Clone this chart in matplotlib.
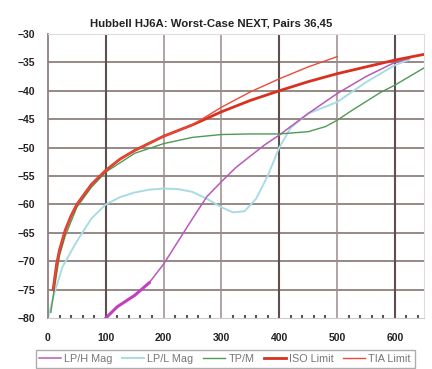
import matplotlib
matplotlib.use("Agg")
import matplotlib.pyplot as plt
from matplotlib.ticker import MultipleLocator

plt.rcParams["font.family"] = ["Liberation Sans", "DejaVu Sans"]

# ISO / TIA limit lines (MHz, dB)
lim_f = [9, 15, 20, 30, 40, 50, 75, 100, 125, 150, 200, 250]
lim_db = [-75, -70.5, -68, -64.5, -62, -60, -56.5, -54, -52, -50.5, -48, -46]
iso_f = [300, 350, 400, 450, 500, 550, 600, 650]
iso_db = [-43.7, -41.7, -40, -38.4, -37, -35.8, -34.6, -33.6]
tia_f = [300, 350, 400, 450, 500]
tia_db = [-42.9, -40.2, -37.9, -35.8, -34]

# measured curves
tpm_f = [5, 10, 20, 30, 50, 75, 100, 150, 200, 250, 300, 350, 400, 450, 480, 500, 525, 550, 575, 600, 625, 650]
tpm_db = [-79, -75.5, -69, -65.5, -60.5, -57, -54.3, -51, -49.3, -48.2, -47.7, -47.6, -47.6, -47.2, -46.3,
          -45.2, -43.5, -41.9, -40.3, -39, -37.5, -36]
lpl_f = [0, 5, 10, 25, 50, 75, 100, 125, 150, 175, 200, 225, 250, 275, 300, 320, 340, 360, 380, 400,
         420, 450, 500, 550, 600, 625]
lpl_db = [-80, -78, -76, -71, -66.5, -62.5, -60, -58.7, -57.9, -57.4, -57.2, -57.3, -57.8, -59, -60.5,
          -61.4, -61.2, -59, -55, -50, -46.5, -44, -42, -38.5, -35.5, -34.5]
lph_f = [100, 120, 150, 175, 200, 225, 250, 275, 300, 325, 350, 375, 400, 450, 500, 550, 600, 625]
lph_db = [-80, -78, -76, -73.8, -70.5, -66.5, -62.5, -58.6, -56, -53.5, -51.5, -49.5, -47.8, -44, -40.5,
          -37.5, -35, -34.3]

fig = plt.figure(figsize=(4.32, 3.69), dpi=100)
ax = fig.add_axes([0.111, 0.138, 0.870, 0.770])

# grid
for y in range(-75, -29, 5):
    ax.axhline(y, color="#8f7f7c", lw=1.3, zorder=1)
for x in [100, 200, 300, 400, 500, 600]:
    dark = x in (100, 400, 600)
    ax.axvline(x, color="#5e4e4c" if dark else "#9a8c8a", lw=1.5 if dark else 1.1, zorder=1)

ax.plot(lph_f, lph_db, color="#b85ab8", lw=1.1, zorder=3, label="LP/H Mag")
ax.plot(lph_f[:4], lph_db[:4], color="#c040c0", lw=2.2, zorder=3)
ax.plot(lpl_f, lpl_db, color="#a8dce4", lw=1.4, zorder=2, label="LP/L Mag")
ax.plot(tpm_f, tpm_db, color="#4f9a55", lw=1.0, zorder=3, label="TP/M")
ax.plot(lim_f + iso_f, lim_db + iso_db, color="#d8321f", lw=2.0, zorder=4, label="ISO Limit")
ax.plot(lim_f + tia_f, lim_db + tia_db, color="#ea4a3c", lw=1.0, zorder=4, label="TIA Limit")

ax.set_xlim(0, 650)
ax.set_ylim(-80, -30)
ax.xaxis.set_major_locator(MultipleLocator(100))
ax.xaxis.set_minor_locator(MultipleLocator(20))
ax.yaxis.set_major_locator(MultipleLocator(5))
ax.tick_params(axis="both", which="major", length=0, labelsize=7.5, colors="#222222")
ax.tick_params(axis="x", which="major", pad=11)
ax.tick_params(axis="y", which="major", pad=9)
ax.tick_params(axis="x", which="minor", length=2, width=1.5, color="#555555", direction="in")
for lab in ax.get_xticklabels() + ax.get_yticklabels():
    lab.set_fontweight("bold")
for s in ["top", "right"]:
    ax.spines[s].set_color("#dddddd")
ax.spines["left"].set_color("#8f7f7c")
ax.spines["left"].set_linewidth(1.3)
ax.spines["bottom"].set_color("#cccccc")

fig.text(0.49, 0.935, "Hubbell HJ6A: Worst-Case NEXT, Pairs 36,45", ha="center", va="center",
         fontsize=8.2, fontweight="bold", color="#222222")

leg = fig.legend(loc="lower left", bbox_to_anchor=(0.07, -0.012), ncol=5, fontsize=7.8,
                 frameon=True, fancybox=False, edgecolor="#999999", handlelength=2.0,
                 columnspacing=0.9, handletextpad=0.3, borderpad=0.35)
for t in leg.get_texts():
    t.set_color("#777777")

fig.savefig("out.png", dpi=100)
